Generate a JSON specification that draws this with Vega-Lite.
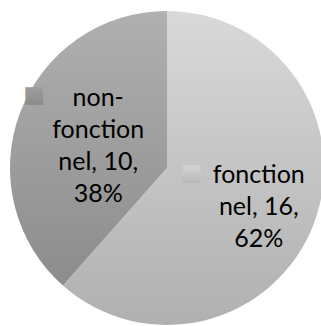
{
  "$schema": "https://vega.github.io/schema/vega-lite/v6.json",
  "autosize": {"type": "none"},
  "width": 314,
  "height": 314,
  "padding": {"left": 10, "top": 11, "right": 0, "bottom": 0},
  "background": "#ffffff",
  "view": {"stroke": null},
  "data": {
    "values": [
      {"cat": "fonctionnel", "value": 16, "label": "fonction\nnel, 16,\n62%"},
      {"cat": "non-fonctionnel", "value": 10, "label": "non-\nfonction\nnel, 10,\n38%"}
    ]
  },
  "encoding": {
    "theta": {"field": "value", "type": "quantitative", "stack": true},
    "order": {"field": "cat", "type": "nominal", "sort": "ascending"}
  },
  "layer": [
    {
      "mark": {"type": "arc"},
      "encoding": {
        "color": {
          "condition": {
            "test": "datum.cat === 'fonctionnel'",
            "value": {"gradient": "linear", "x1": 0, "y1": 0, "x2": 0, "y2": 1, "stops": [{"offset": 0, "color": "#d9d9d9"}, {"offset": 1, "color": "#b0b0b0"}]}
          },
          "value": {"gradient": "linear", "x1": 0, "y1": 0, "x2": 0, "y2": 1, "stops": [{"offset": 0, "color": "#b0b0b0"}, {"offset": 1, "color": "#8c8c8c"}]}
        }
      }
    },
    {
      "mark": {"type": "text", "align": "center", "baseline": "middle", "lineBreak": "\n", "lineHeight": 32, "font": "Lato", "fontSize": 25, "radius": 80, "dx": 17, "dy": -21, "color": "#000000"},
      "encoding": {
        "text": {"condition": {"test": "datum.cat === 'fonctionnel'", "field": "label"}, "value": ""}
      }
    },
    {
      "mark": {"type": "text", "align": "center", "baseline": "middle", "lineBreak": "\n", "lineHeight": 32, "font": "Lato", "fontSize": 25, "radius": 80, "dx": 6, "dy": -42, "color": "#000000"},
      "encoding": {
        "text": {"condition": {"test": "datum.cat === 'non-fonctionnel'", "field": "label"}, "value": ""}
      }
    },
    {
      "mark": {"type": "text", "align": "center", "baseline": "middle", "font": "DejaVu Sans", "fontSize": 23, "radius": 80, "dx": -50, "dy": -23, "color": {"gradient": "linear", "x1": 0, "y1": 0, "x2": 0, "y2": 1, "stops": [{"offset": 0, "color": "#dedede"}, {"offset": 1, "color": "#b4b4b4"}]}},
      "encoding": {
        "text": {"condition": {"test": "datum.cat === 'fonctionnel'", "value": "■"}, "value": ""}
      }
    },
    {
      "mark": {"type": "text", "align": "center", "baseline": "middle", "font": "DejaVu Sans", "fontSize": 23, "radius": 80, "dx": -58, "dy": -45, "color": {"gradient": "linear", "x1": 0, "y1": 0, "x2": 0, "y2": 1, "stops": [{"offset": 0, "color": "#a4a4a4"}, {"offset": 1, "color": "#8a8a8a"}]}},
      "encoding": {
        "text": {"condition": {"test": "datum.cat === 'non-fonctionnel'", "value": "■"}, "value": ""}
      }
    }
  ]
}
